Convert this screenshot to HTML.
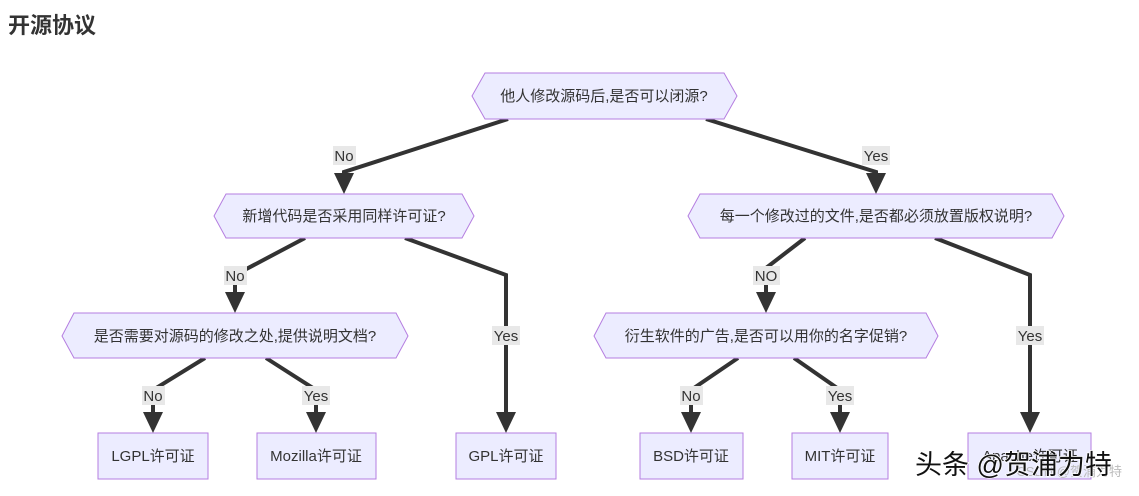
<!DOCTYPE html>
<html><head><meta charset="utf-8"><style>
body{margin:0;background:#fff;width:1139px;height:496px;overflow:hidden}
svg{display:block}
text{font-family:"Liberation Sans","Noto Sans CJK SC",sans-serif}
</style></head><body>
<svg width="1139" height="496" xmlns="http://www.w3.org/2000/svg">
<defs>
<marker id="a" markerWidth="10" markerHeight="10" refX="10" refY="5" orient="auto" markerUnits="userSpaceOnUse"><path d="M0,0 L10,5 L0,10z" fill="#333"/></marker>
</defs>
<text x="8" y="33" font-size="22" font-weight="bold" fill="#333">开源协议</text>
<g stroke="#333" stroke-width="4" fill="none">
<polyline points="508,119 344,172 344,176"/>
<polyline points="706,119 876,172 876,176"/>
<polyline points="305,238 235,275 235,295"/>
<polyline points="405,238 506,275 506,415"/>
<polyline points="805,238 766,268 766,295"/>
<polyline points="935,238 1030,275 1030,415"/>
<polyline points="205,358 153,390 153,415"/>
<polyline points="266,358 316,390 316,415"/>
<polyline points="738,358 691,390 691,415"/>
<polyline points="794,358 840,390 840,415"/>
</g>
<g fill="#333">
<path d="M334,173 L354,173 L344,194z"/>
<path d="M866,173 L886,173 L876,194z"/>
<path d="M225,292 L245,292 L235,313z"/>
<path d="M756,292 L776,292 L766,313z"/>
<path d="M496,412 L516,412 L506,433z"/>
<path d="M1020,412 L1040,412 L1030,433z"/>
<path d="M143,412 L163,412 L153,433z"/>
<path d="M306,412 L326,412 L316,433z"/>
<path d="M681,412 L701,412 L691,433z"/>
<path d="M830,412 L850,412 L840,433z"/>
</g>
<g fill="#e8e8e8">
<rect x="333" y="146" width="23" height="19"/>
<rect x="862" y="146" width="28" height="19"/>
<rect x="224" y="266" width="23" height="19"/>
<rect x="753" y="266" width="27" height="19"/>
<rect x="492" y="326" width="28" height="19"/>
<rect x="1016" y="326" width="28" height="19"/>
<rect x="142" y="386" width="23" height="19"/>
<rect x="302" y="386" width="28" height="19"/>
<rect x="680" y="386" width="23" height="19"/>
<rect x="826" y="386" width="28" height="19"/>
</g>
<g font-size="15" fill="#333" text-anchor="middle">
<text x="344" y="161">No</text><text x="876" y="161">Yes</text>
<text x="235" y="281">No</text><text x="766" y="281">NO</text>
<text x="506" y="341">Yes</text><text x="1030" y="341">Yes</text>
<text x="153" y="401">No</text><text x="316" y="401">Yes</text>
<text x="691" y="401">No</text><text x="840" y="401">Yes</text>
</g>
<g fill="#ECECFF" stroke="#b57ee0" stroke-width="1">
<polygon points="485,73 724,73 737,96 724,119 485,119 472,96"/>
<polygon points="226,194 462,194 474,216 462,238 226,238 214,216"/>
<polygon points="700,194 1052,194 1064,216 1052,238 700,238 688,216"/>
<polygon points="74,313 396,313 408,336 396,358 74,358 62,336"/>
<polygon points="606,313 926,313 938,336 926,358 606,358 594,336"/>
<rect x="98" y="433" width="110" height="46"/>
<rect x="257" y="433" width="119" height="46"/>
<rect x="456" y="433" width="100" height="46"/>
<rect x="640" y="433" width="103" height="46"/>
<rect x="792" y="433" width="96" height="46"/>
<rect x="968" y="433" width="123" height="46"/>
</g>
<g font-size="15" fill="#333" text-anchor="middle">
<text x="604" y="101">他人修改源码后,是否可以闭源?</text>
<text x="344" y="221">新增代码是否采用同样许可证?</text>
<text x="876" y="221">每一个修改过的文件,是否都必须放置版权说明?</text>
<text x="235" y="341">是否需要对源码的修改之处,提供说明文档?</text>
<text x="766" y="341">衍生软件的广告,是否可以用你的名字促销?</text>
<text x="153" y="461">LGPL许可证</text>
<text x="316" y="461">Mozilla许可证</text>
<text x="506" y="461">GPL许可证</text>
<text x="691" y="461">BSD许可证</text>
<text x="840" y="461">MIT许可证</text>
<text x="1030" y="461">Apache许可证</text>
</g>
<text x="1122" y="476" font-size="13" fill="#bbb" text-anchor="end">CSDN @贺浦力特</text>
<text x="915" y="474" font-size="27" fill="#111" stroke="#fff" stroke-width="1.5" paint-order="stroke">头条 @贺浦力特</text>
</svg>
</body></html>
